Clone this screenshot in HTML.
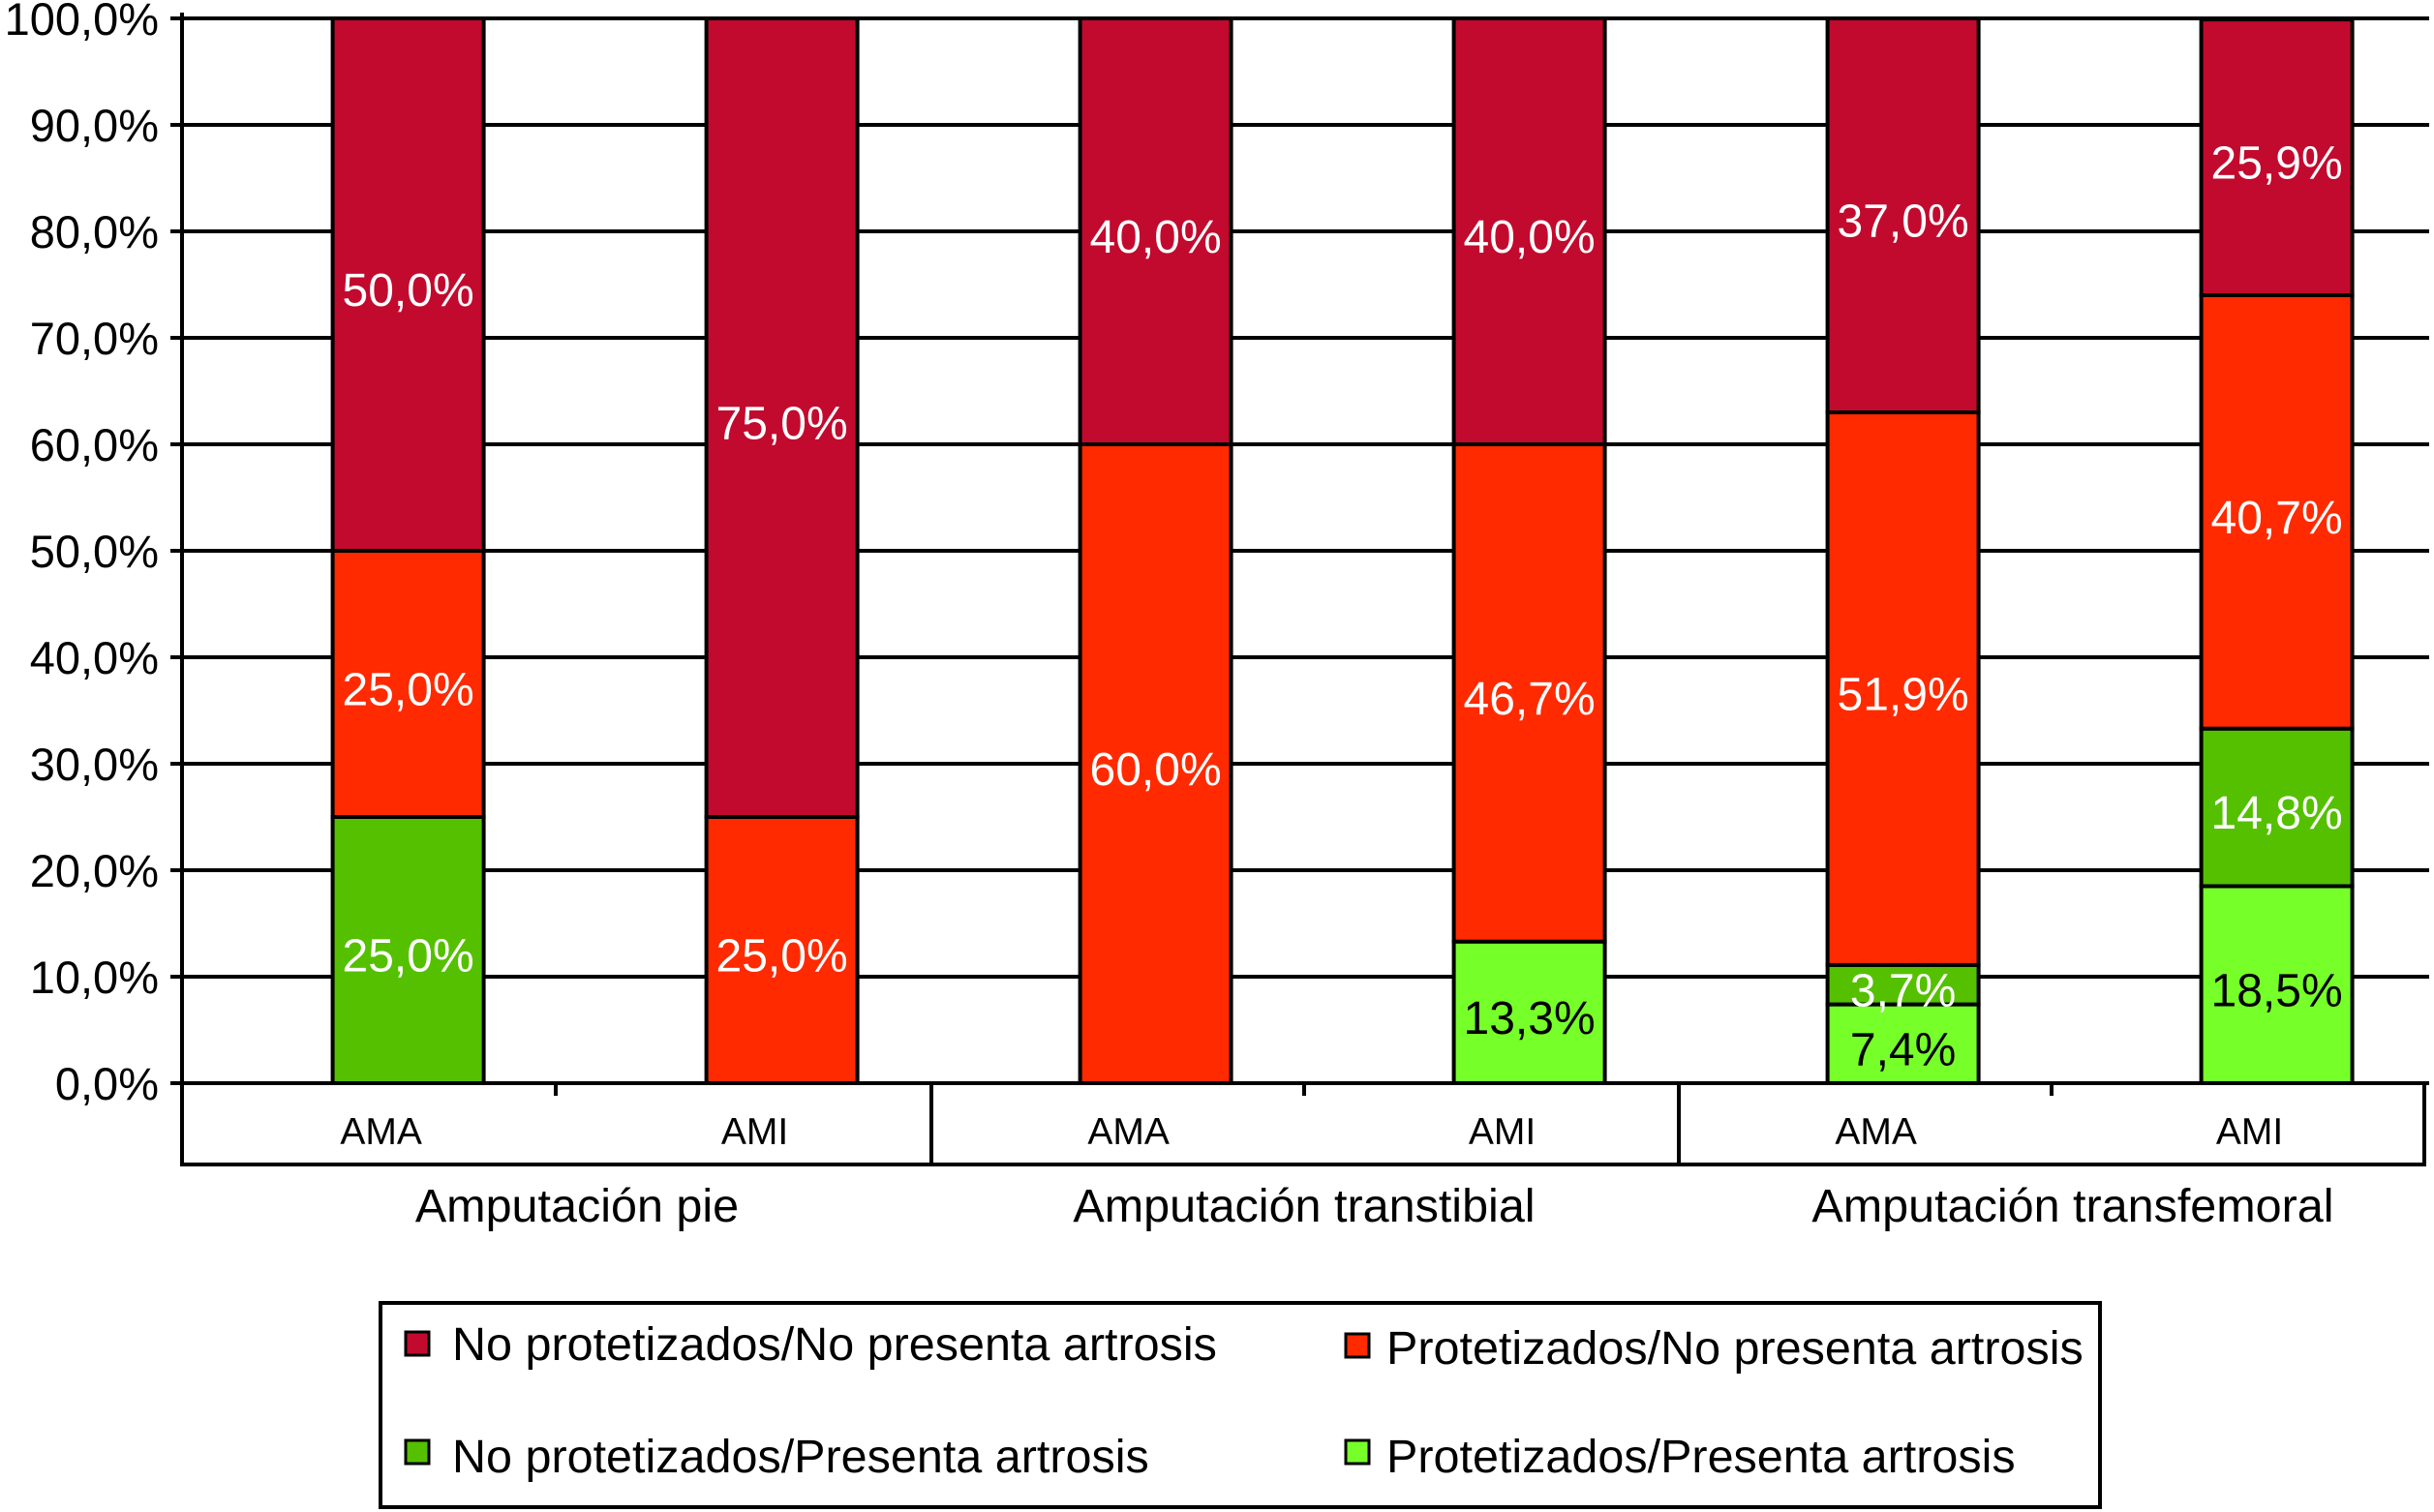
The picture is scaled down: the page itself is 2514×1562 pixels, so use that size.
<!DOCTYPE html>
<html><head><meta charset="utf-8"><style>
html,body{margin:0;padding:0;background:#fff;}
svg{display:block;font-family:"Liberation Sans",Arial,sans-serif;}
</style></head><body>
<svg id="chart" width="2514" height="1562" viewBox="0 0 2514 1562" xmlns="http://www.w3.org/2000/svg">
<g id="grid"></g>
<g id="ylabels"></g>
<g id="bars"></g>
<g id="xaxis"></g>
<g id="legend"></g>
</svg>
<script>
const categories = ["AMA","AMI","AMA","AMI","AMA","AMI"];
const groups = ["Amputación pie","Amputación transtibial","Amputación transfemoral"];
const seriesNames = ["Protetizados/Presenta artrosis","No protetizados/Presenta artrosis","Protetizados/No presenta artrosis","No protetizados/No presenta artrosis"];
const seriesColors = ["#77FF2A","#55C000","#FF2A00","#C20A2E"];
const lightGreen = [0, 0, 0, 13.3, 7.4, 18.5];
const darkGreen = [25.0, 0, 0, 0, 3.7, 14.8];
const orange = [25.0, 25.0, 60.0, 46.7, 51.9, 40.7];
const darkRed = [50.0, 75.0, 40.0, 40.0, 37.0, 25.9];
const yTicks = [0,10,20,30,40,50,60,70,80,90,100];

const NS="http://www.w3.org/2000/svg";
const X0=188, XR=2509, Y0=1119, YT=19;
function y(v){return Y0-(v/100)*(Y0-YT);}
function xc(i){return 421.6+386*i;}
const BW=156;
function mk(tag,attrs,parent,text){const e=document.createElementNS(NS,tag);for(const k in attrs)e.setAttribute(k,attrs[k]);if(text!==undefined)e.textContent=text;parent.appendChild(e);return e;}
const fmt=v=>v.toFixed(1).replace('.',',')+'%';

const grid=document.getElementById('grid'), yl=document.getElementById('ylabels');
yTicks.forEach(t=>{
  const l=mk('line',{x1:176,x2:XR,y1:y(t),y2:y(t),stroke:'#000','stroke-width':4},grid);
  
  
  const tx=mk('text',{x:164,y:y(t)+17,'text-anchor':'end','font-size':47,fill:'#000'},yl,fmt(t));
  
  
});
const ax=mk('line',{x1:X0,x2:X0,y1:13,y2:1203,stroke:'#000','stroke-width':4},grid);



const bars=document.getElementById('bars');
const series=[lightGreen,darkGreen,orange,darkRed];
categories.forEach((c,i)=>{
  let cum=0;
  series.forEach((s,si)=>{
    const v=s[i]; if(!v) return;
    const top=y(cum+v), bot=y(cum);
    const r=mk('rect',{x:xc(i)-BW/2,y:top,width:BW,height:bot-top,fill:seriesColors[si],stroke:'#000','stroke-width':4},bars);
    
    
    const t=mk('text',{x:xc(i),y:(top+bot)/2+22,'text-anchor':'middle','font-size':48,fill:si===0?'#000':'#fff'},bars,fmt(v));
    
    
    cum+=v;
  });
});

const xa=document.getElementById('xaxis');
const box=mk('rect',{x:X0,y:Y0,width:2504-X0,height:1203-Y0,fill:'none',stroke:'#000','stroke-width':4},xa);


[962,1734].forEach(x=>{const l=mk('line',{x1:x,x2:x,y1:Y0,y2:1203,stroke:'#000','stroke-width':4},xa);

});
[574,1347,2119].forEach(x=>{const l=mk('line',{x1:x,x2:x,y1:Y0,y2:Y0+13,stroke:'#000','stroke-width':4},xa);

});
categories.forEach((c,i)=>{const t=mk('text',{x:xc(i)-28,y:1182,'text-anchor':'middle','font-size':39,fill:'#000'},xa,c);

});
const groupCenters=[596,1347,2141];
groups.forEach((g,i)=>{const t=mk('text',{x:groupCenters[i],y:1262,'text-anchor':'middle','font-size':48.5,fill:'#000'},xa,g);

});

const lg=document.getElementById('legend');
const lb=mk('rect',{x:393,y:1346,width:1776,height:211,fill:'#fff',stroke:'#000','stroke-width':4},lg);


const legPos=[[1390,1488,1432,1504],[419,1488,467,1504],[1390,1378,1432,1392],[419,1376,467,1388]];
seriesNames.forEach((n,si)=>{
  const p=legPos[si];
  const m=mk('rect',{x:p[0],y:p[1],width:24,height:24,fill:seriesColors[si],stroke:'#000','stroke-width':3},lg);
  
  
  const t=mk('text',{x:p[2],y:p[3]+17,'font-size':48.5,fill:'#000'},lg,n);
  
  
});
</script>
</body></html>
